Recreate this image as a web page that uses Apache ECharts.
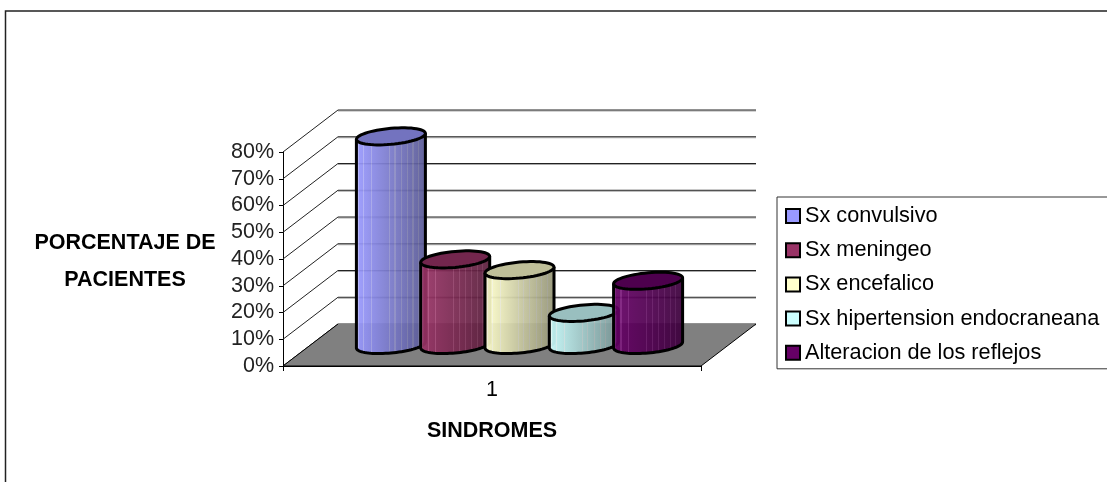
<!DOCTYPE html>
<html>
<head>
<meta charset="utf-8">
<style>
  html, body { margin: 0; padding: 0; background: #fff; }
  #chart { width: 1107px; height: 482px; }
</style>
<script src="https://cdn.jsdelivr.net/npm/echarts@6/dist/echarts.min.js"></script>
</head>
<body>
<div id="chart"></div>
<script>
  // datos
  const categories = ['1']
  const seriesNames = ['Sx convulsivo', 'Sx meningeo', 'Sx encefalico', 'Sx hipertension endocraneana', 'Alteracion de los reflejos']
  const seriesValues = [78, 32, 28, 12, 24]
  const gridTicks = [0, 10, 20, 30, 40, 50, 60, 70, 80]

  const baseColors = [[153, 153, 255], [153, 51, 102], [255, 255, 204], [204, 255, 255], [102, 0, 102]]
  const stripes = [0.03, 0.107, 0.22, 0.48, 0.56, 0.65, 0.74, 0.82, 0.9]

  const fontName = '"Liberation Sans", Arial, sans-serif'
  const fontSize = 21.5
  const depthX = 55
  const depthY = 42
  const radiusX = 34.5
  const radiusY = 8
  const shear = 0.087
  const barStep = 64.3

  function rgb (c, k) {
    return 'rgb(' + c.map(v => Math.round(v * k)).join(',') + ')'
  }

  function bodyGradient (c) {
    // luz de izquierda a derecha con las bandas verticales de Excel
    const shade = p => 1 - 0.42 * p
    const stops = []
    stops.push({ offset: 0, color: rgb(c, 1) })
    stripes.forEach(p => {
      const w = 0.008
      stops.push({ offset: p - w, color: rgb(c, shade(p - w)) })
      stops.push({ offset: p - w, color: rgb(c.map(v => Math.min(255, v + 28)), shade(p)) })
      stops.push({ offset: p + w, color: rgb(c.map(v => Math.min(255, v + 28)), shade(p)) })
      stops.push({ offset: p + w, color: rgb(c, shade(p + w)) })
    })
    stops.push({ offset: 1, color: rgb(c, shade(1)) })
    return new echarts.graphic.LinearGradient(0, 0, 1, 0, stops)
  }

  function ellipsePoints (cx, cy, from, to, n) {
    const pts = []
    for (let i = 0; i <= n; i++) {
      const t = from + (to - from) * i / n
      const dx = radiusX * Math.cos(t)
      pts.push([cx + dx, cy - shear * dx + radiusY * Math.sin(t)])
    }
    return pts
  }

  function renderCylinder (index) {
    return function (params, api) {
      const top = api.coord([0, api.value(1)])
      const base = api.coord([0, 0])
      const cx = top[0] + depthX / 2 + (index - 2) * barStep
      const yTop = top[1] - depthY / 2
      const yBase = base[1] - depthY / 2
      const c = baseColors[index]
      const outline = [[cx + radiusX, yTop - shear * radiusX]].concat(
        ellipsePoints(cx, yBase, 0, Math.PI, 40),
        [[cx - radiusX, yTop + shear * radiusX]]
      )
      const lidPoints = ellipsePoints(cx, yTop, 0, Math.PI * 2, 60)
      return {
        type: 'group',
        children: [
          {
            type: 'polygon',
            shape: { points: outline },
            style: { fill: bodyGradient(c), opacity: 0.93 }
          },
          {
            type: 'polyline',
            shape: { points: outline },
            style: { fill: 'none', stroke: '#000', lineWidth: 3 }
          },
          {
            type: 'polygon',
            shape: { points: lidPoints },
            style: { fill: rgb(c, 0.75), stroke: '#000', lineWidth: 3 }
          }
        ]
      }
    }
  }

  function renderFloor (params, api) {
    const box = params.coordSys
    const y = api.coord([0, 0])[1]
    const x0 = box.x
    const x1 = box.x + box.width
    return {
      type: 'group',
      children: [
        {
          type: 'polygon',
          shape: { points: [[x0, y], [x1, y], [x1 + depthX, y - depthY], [x0 + depthX, y - depthY]] },
          style: { fill: '#808080' }
        },
        {
          type: 'polyline',
          shape: { points: [[x0 + depthX, y - depthY], [x0, y], [x1, y], [x1 + depthX, y - depthY]] },
          style: { fill: 'none', stroke: '#000', lineWidth: 1 }
        }
      ]
    }
  }

  function renderWall (params, api) {
    const box = params.coordSys
    const y = api.coord([0, api.value(1)])[1]
    const x0 = box.x
    const x1 = box.x + box.width
    const back = y - depthY
    return {
      type: 'group',
      children: [
        {
          type: 'line',
          shape: { x1: x0 + depthX, y1: back + 1, x2: x1 + depthX, y2: back + 1 },
          style: { stroke: '#aaa', lineWidth: 1 }
        },
        {
          type: 'polyline',
          shape: { points: [[x0, y], [x0 + depthX, back], [x1 + depthX, back]] },
          style: { fill: 'none', stroke: '#222', lineWidth: 1 }
        }
      ]
    }
  }

  const series = [
    {
      name: 'paredes',
      type: 'custom',
      renderItem: renderWall,
      data: gridTicks.map(v => [0, v]),
      silent: true,
      z: 1
    },
    {
      name: 'piso',
      type: 'custom',
      renderItem: renderFloor,
      data: [[0, 0]],
      silent: true,
      z: 1
    }
  ]
  seriesNames.forEach((name, i) => {
    series.push({
      name: name,
      type: 'custom',
      renderItem: renderCylinder(i),
      itemStyle: { color: rgb(baseColors[i], 1), borderColor: '#000', borderWidth: 2 },
      data: [[0, seriesValues[i]]],
      z: 3
    })
  })

  const chart = echarts.init(document.getElementById('chart'), null, { renderer: 'canvas' })
  chart.setOption({
    animation: false,
    backgroundColor: '#fff',
    textStyle: { fontFamily: fontName },
    grid: { left: 283, top: 152, width: 418, height: 214 },
    graphic: [
      {
        type: 'polyline',
        shape: { points: [[5.5, 482], [5.5, 11], [1107, 11]] },
        style: { fill: 'none', stroke: '#222', lineWidth: 1.5 }
      },
      // titulo del eje y, el name del eje no se deja bajar
      {
        type: 'text',
        x: 125,
        y: 261.5,
        style: {
          text: 'PORCENTAJE DE\nPACIENTES',
          fill: '#000',
          font: 'bold ' + fontSize + 'px ' + fontName,
          lineHeight: 37,
          align: 'center',
          verticalAlign: 'middle'
        }
      }
    ],
    legend: {
      data: seriesNames,
      orient: 'vertical',
      left: 777,
      top: 197,
      padding: [8, 30, 5, 8],
      itemWidth: 14,
      itemHeight: 14,
      itemGap: 12.2,
      borderColor: '#333',
      borderWidth: 1,
      icon: 'rect',
      textStyle: { color: '#000', fontFamily: fontName, fontSize: 21.7 }
    },
    xAxis: {
      type: 'category',
      data: categories,
      name: 'SINDROMES',
      nameLocation: 'middle',
      nameGap: 54,
      nameTextStyle: { color: '#000', fontFamily: fontName, fontSize: fontSize, fontWeight: 'bold' },
      axisLine: { lineStyle: { color: '#000' } },
      axisTick: { show: true, length: 5, lineStyle: { color: '#000' } },
      axisLabel: { color: '#000', fontFamily: fontName, fontSize: fontSize, margin: 13 },
      splitLine: { show: false }
    },
    yAxis: {
      type: 'value',
      min: 0,
      max: 80,
      interval: 10,
      axisLine: { show: true, lineStyle: { color: '#000' } },
      axisTick: { show: true, length: 4, lineStyle: { color: '#000' } },
      axisLabel: { color: '#222', fontFamily: fontName, fontSize: fontSize, margin: 9, formatter: '{value}%' },
      splitLine: { show: false }
    },
    series: series
  })
</script>
</body>
</html>
